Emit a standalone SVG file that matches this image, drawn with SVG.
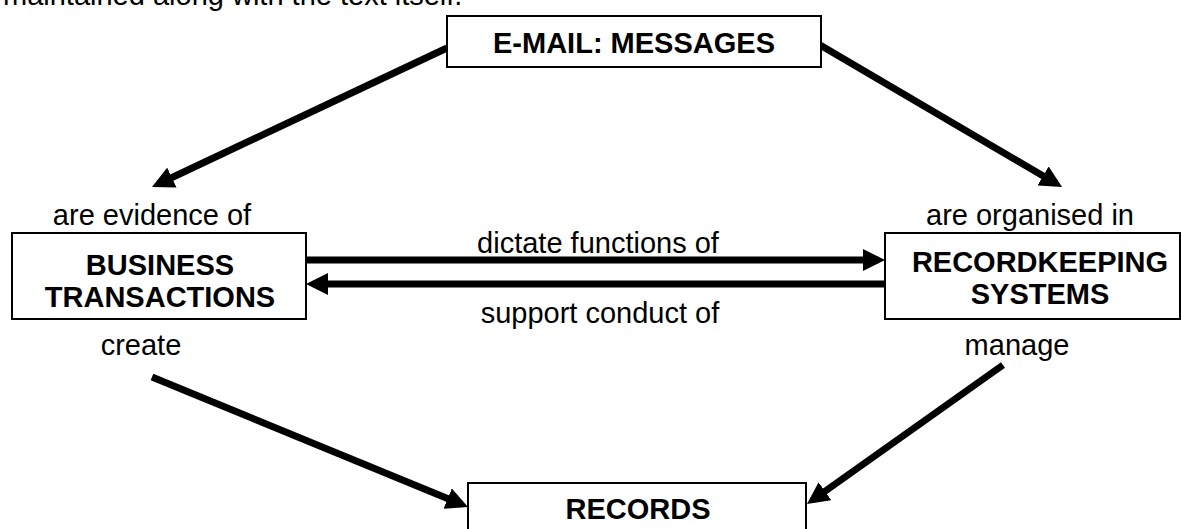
<svg xmlns="http://www.w3.org/2000/svg" width="1181" height="529" viewBox="0 0 1181 529">
<style>
.box{fill:#fff;stroke:#000;stroke-width:2}
.t{font-family:"Liberation Sans",Arial,sans-serif;font-size:29px;fill:#000;text-anchor:middle}
.b{font-weight:bold}
.c{stroke:#000;stroke-width:7;fill:none;marker-end:url(#ah)}
</style>
<defs>
<marker id="ah" markerUnits="userSpaceOnUse" markerWidth="22" markerHeight="22" refX="15" refY="11" orient="auto">
<path d="M0,0 L22,11 L0,22 z" fill="#000"/>
</marker>
</defs>
<text class="t" x="3" y="5" style="text-anchor:start">maintained along with the text itself.</text>
<g id="connectors">
<line class="c" x1="447" y1="48" x2="158.3" y2="184"/>
<line class="c" x1="820" y1="45" x2="1056" y2="183.5"/>
<line class="c" x1="152" y1="377" x2="461.5" y2="504.3"/>
<line class="c" x1="1003" y1="365" x2="812.7" y2="500"/>
<line class="c" x1="306" y1="260" x2="878" y2="260"/>
<line class="c" x1="885" y1="284" x2="313" y2="284"/>
<text class="t" x="598" y="253">dictate functions of</text>
<text class="t" x="600" y="323">support conduct of</text>
<text class="t" x="152" y="225">are evidence of</text>
<text class="t" x="1030" y="225">are organised in</text>
<text class="t" x="141" y="355">create</text>
<text class="t" x="1017" y="355">manage</text>
</g>
<g id="email">
<rect class="box" x="447" y="16" width="374" height="51"/>
<text class="t b" x="634" y="53">E-MAIL: MESSAGES</text>
</g>
<g id="business">
<rect class="box" x="12" y="233" width="294" height="86"/>
<text class="t b" x="160" y="275">BUSINESS</text>
<text class="t b" x="160" y="307">TRANSACTIONS</text>
</g>
<g id="recordkeeping">
<rect class="box" x="885" y="233" width="295" height="86"/>
<text class="t b" x="1040" y="272">RECORDKEEPING</text>
<text class="t b" x="1040" y="304">SYSTEMS</text>
</g>
<g id="records">
<rect class="box" x="468" y="483" width="338" height="60"/>
<text class="t b" x="638" y="519">RECORDS</text>
</g>
</svg>
